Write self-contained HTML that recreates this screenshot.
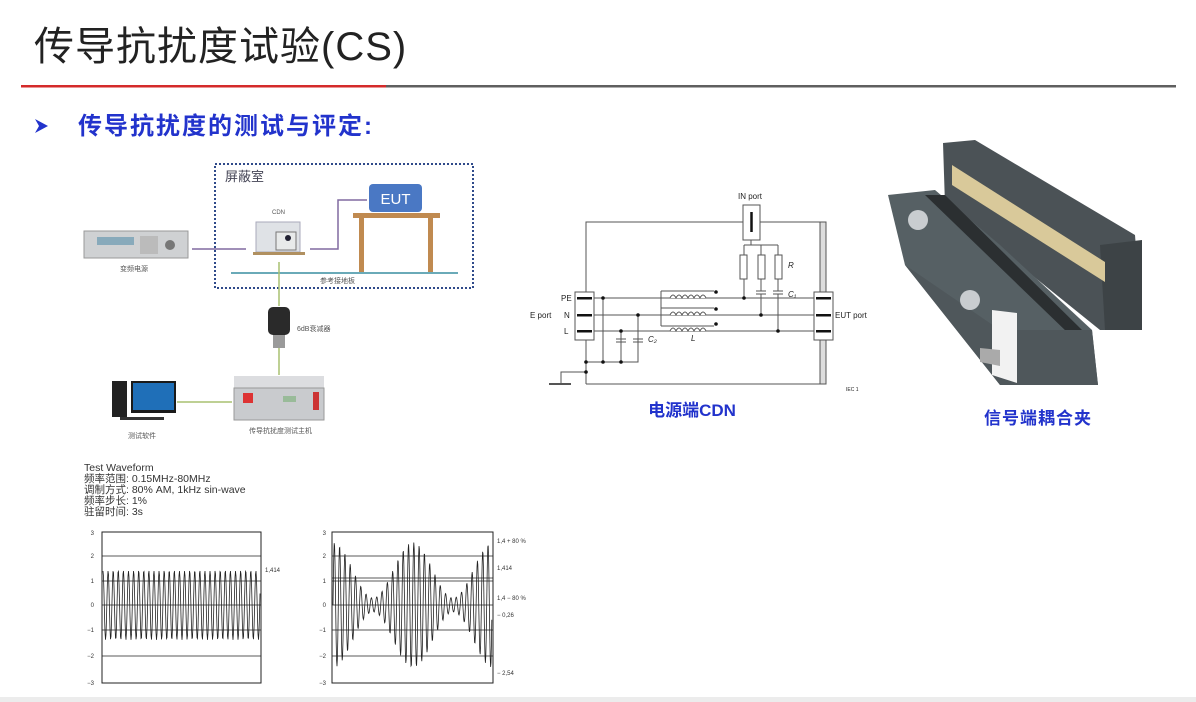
<!DOCTYPE html>
<html><head><meta charset="utf-8"><style>
html,body{margin:0;padding:0;background:#fff;width:1196px;height:702px;overflow:hidden}
svg{display:block}
text{font-family:"Liberation Sans","Noto Sans CJK SC",sans-serif}
</style></head><body>
<svg width="1196" height="702" viewBox="0 0 1196 702" xmlns="http://www.w3.org/2000/svg">
<!-- title -->
<text x="34" y="60" font-size="40" fill="#222" font-family="'Noto Serif CJK SC','Liberation Serif',serif" letter-spacing="1">传导抗扰度试验(CS)</text>
<rect x="21" y="85" width="365" height="2.5" fill="#d42a2a"/>
<rect x="386" y="85" width="790" height="2.5" fill="#5f5f5f"/>
<!-- subtitle -->
<polygon points="35,119 48,126 35,133 39,126" fill="#2233cc"/>
<text x="78" y="134" font-size="24" fill="#2233cc" font-family="'Noto Serif CJK SC',serif" font-weight="bold" letter-spacing="2">传导抗扰度的测试与评定:</text>

<!-- diagram 1 -->
<rect x="215" y="164" width="258" height="124" fill="none" stroke="#2f4a8a" stroke-width="2" stroke-dasharray="2,2"/>
<text x="225" y="181" font-size="13" fill="#445">屏蔽室</text>
<rect x="369" y="184" width="53" height="28" rx="4" fill="#4a78c4"/>
<text x="395.5" y="204" font-size="15" fill="#fff" text-anchor="middle">EUT</text>
<rect x="353" y="213" width="87" height="5" fill="#c08a50"/>
<rect x="359" y="218" width="5" height="55" fill="#c08a50"/>
<rect x="428" y="218" width="5" height="55" fill="#c08a50"/>
<line x1="231" y1="273" x2="458" y2="273" stroke="#6aaab8" stroke-width="2"/>
<text x="320" y="283" font-size="7" fill="#555">参考接地板</text>
<text x="272" y="214" font-size="6" fill="#555">CDN</text>
<rect x="256" y="222" width="44" height="30" fill="#dfe2e6" stroke="#aab" />
<rect x="276" y="232" width="20" height="18" fill="#e8eaea" stroke="#777"/>
<circle cx="288" cy="238" r="3" fill="#223"/>
<rect x="253" y="252" width="52" height="3" fill="#b09060"/>
<rect x="84" y="231" width="104" height="27" fill="#cfd1d3" stroke="#999"/>
<rect x="97" y="237" width="37" height="8" fill="#8ab"/>
<circle cx="170" cy="245" r="5" fill="#777"/>
<rect x="140" y="236" width="18" height="18" fill="#bbb"/>
<text x="120" y="271" font-size="7" fill="#555">变频电源</text>
<polyline points="192,249 246,249" fill="none" stroke="#806aa0" stroke-width="1.5"/>
<polyline points="310,249 338,249 338,200 367,200" fill="none" stroke="#806aa0" stroke-width="1.5"/>
<line x1="279" y1="262" x2="279" y2="306" stroke="#a8c070" stroke-width="1.5"/>
<rect x="268" y="307" width="22" height="28" rx="5" fill="#2a2a2a"/>
<rect x="273" y="335" width="12" height="13" fill="#9a9a9a"/>
<text x="297" y="331" font-size="7" fill="#555">6dB衰减器</text>
<line x1="279" y1="348" x2="279" y2="375" stroke="#a8c070" stroke-width="1.5"/>
<rect x="234" y="376" width="90" height="12" fill="#dcdde0"/>
<rect x="234" y="388" width="90" height="32" fill="#c9cbce" stroke="#999"/>
<rect x="243" y="393" width="10" height="10" fill="#d33"/>
<rect x="283" y="396" width="13" height="6" fill="#9b9"/>
<rect x="313" y="392" width="6" height="18" fill="#c33"/>
<text x="249" y="433" font-size="7" fill="#555">传导抗扰度测试主机</text>
<line x1="177" y1="402" x2="232" y2="402" stroke="#a8c070" stroke-width="1.5"/>
<rect x="112" y="381" width="15" height="36" fill="#222"/>
<rect x="131" y="381" width="45" height="32" fill="#1a1a1a"/>
<rect x="133" y="383" width="41" height="27" fill="#1f6fb8"/>
<rect x="120" y="417" width="44" height="3" fill="#333"/>
<text x="128" y="438" font-size="7" fill="#555">测试软件</text>

<!-- waveform text -->
<g font-size="10.5" fill="#333">
<text x="84" y="471">Test Waveform</text>
<text x="84" y="482">频率范围: 0.15MHz-80MHz</text>
<text x="84" y="493">调制方式: 80% AM, 1kHz sin-wave</text>
<text x="84" y="504">频率步长: 1%</text>
<text x="84" y="515">驻留时间: 3s</text>
</g>
<g id="charts" stroke="#222" fill="none">
<rect x="102" y="532" width="159" height="151" stroke-width="1"/>
<rect x="332" y="532" width="161" height="151" stroke-width="1"/>
<g stroke-width="0.8">
<line x1="102" y1="556" x2="261" y2="556"/><line x1="102" y1="581" x2="261" y2="581"/><line x1="102" y1="605" x2="261" y2="605"/><line x1="102" y1="630" x2="261" y2="630"/><line x1="102" y1="656" x2="261" y2="656"/>
<line x1="332" y1="556" x2="493" y2="556"/><line x1="332" y1="578" x2="493" y2="578"/><line x1="332" y1="581" x2="493" y2="581"/><line x1="332" y1="605" x2="493" y2="605"/><line x1="332" y1="630" x2="493" y2="630"/><line x1="332" y1="656" x2="493" y2="656"/>
</g>
<path id="w1" stroke-width="0.8"/>
<path id="w2" stroke-width="0.8"/>
</g>
<g font-size="6" fill="#333" text-anchor="end">
<text x="94" y="535">3</text><text x="94" y="558">2</text><text x="94" y="583">1</text><text x="94" y="607">0</text><text x="94" y="632">−1</text><text x="94" y="658">−2</text><text x="94" y="685">−3</text>
<text x="326" y="535">3</text><text x="326" y="558">2</text><text x="326" y="583">1</text><text x="326" y="607">0</text><text x="326" y="632">−1</text><text x="326" y="658">−2</text><text x="326" y="685">−3</text>
</g>
<g font-size="6" fill="#333">
<text x="265" y="572">1,414</text>
<text x="497" y="543">1,4 + 80 %</text>
<text x="497" y="570">1,414</text>
<text x="497" y="600">1,4 − 80 %</text>
<text x="497" y="617">− 0,26</text>
<text x="497" y="675">− 2,54</text>
</g>

<!-- CDN schematic -->
<g stroke="#555" stroke-width="1" fill="none">
<polyline points="586,292 586,222 743,222"/>
<polyline points="760,222 820,222"/>
<rect x="820" y="222" width="6" height="162" fill="#ddd"/>
<line x1="586" y1="384" x2="820" y2="384"/>
<rect x="743" y="205" width="17" height="35"/>
<line x1="751.5" y1="212" x2="751.5" y2="232" stroke="#111" stroke-width="2.5"/>
<polyline points="751,240 751,245 778,245"/>
<line x1="744" y1="245" x2="751" y2="245"/>
<rect x="740" y="255" width="7" height="24"/><rect x="758" y="255" width="7" height="24"/><rect x="775" y="255" width="7" height="24"/>
<line x1="744" y1="245" x2="744" y2="255"/><line x1="761" y1="245" x2="761" y2="255"/><line x1="778" y1="245" x2="778" y2="255"/>
<line x1="744" y1="279" x2="744" y2="298"/>
<line x1="761" y1="279" x2="761" y2="291"/><line x1="778" y1="279" x2="778" y2="291"/>
<line x1="756" y1="291" x2="766" y2="291"/><line x1="756" y1="294" x2="766" y2="294"/>
<line x1="773" y1="291" x2="783" y2="291"/><line x1="773" y1="294" x2="783" y2="294"/>
<line x1="761" y1="294" x2="761" y2="315"/><line x1="778" y1="294" x2="778" y2="331"/>
<rect x="575" y="292" width="19" height="48"/>
<rect x="814" y="292" width="19" height="48" fill="#fff"/>
<line x1="594" y1="298" x2="814" y2="298"/><line x1="594" y1="315" x2="814" y2="315"/><line x1="594" y1="331" x2="814" y2="331"/>
<line x1="586" y1="340" x2="586" y2="384"/>
<polyline points="586,372 561,372 561,384"/>
<line x1="549" y1="384" x2="571" y2="384" stroke-width="2"/>
<polyline points="586,362 638,362 638,315"/>
<line x1="603" y1="298" x2="603" y2="362"/>
<line x1="621" y1="331" x2="621" y2="362"/>
<line x1="616" y1="339" x2="626" y2="339"/><line x1="616" y1="342" x2="626" y2="342"/>
<line x1="633" y1="339" x2="643" y2="339"/><line x1="633" y1="342" x2="643" y2="342"/>
<line x1="661" y1="291" x2="661" y2="326"/>
<line x1="661" y1="291" x2="714" y2="291"/><line x1="661" y1="308" x2="714" y2="308"/><line x1="661" y1="326" x2="714" y2="326"/>
<path d="M670 298 q3 -6 6 0 q3 -6 6 0 q3 -6 6 0 q3 -6 6 0 q3 -6 6 0 q3 -6 6 0 M670 315 q3 -6 6 0 q3 -6 6 0 q3 -6 6 0 q3 -6 6 0 q3 -6 6 0 q3 -6 6 0 M670 331 q3 -6 6 0 q3 -6 6 0 q3 -6 6 0 q3 -6 6 0 q3 -6 6 0 q3 -6 6 0" fill="#fff"/>
</g>
<g fill="#111">
<rect x="577" y="297" width="15" height="2.5"/><rect x="577" y="314" width="15" height="2.5"/><rect x="577" y="330" width="15" height="2.5"/>
<rect x="816" y="297" width="15" height="2.5"/><rect x="816" y="314" width="15" height="2.5"/><rect x="816" y="330" width="15" height="2.5"/>
<circle cx="603" cy="298" r="1.8"/><circle cx="638" cy="315" r="1.8"/><circle cx="621" cy="331" r="1.8"/>
<circle cx="586" cy="362" r="1.8"/><circle cx="603" cy="362" r="1.8"/><circle cx="621" cy="362" r="1.8"/><circle cx="586" cy="372" r="1.8"/>
<circle cx="744" cy="298" r="1.8"/><circle cx="761" cy="315" r="1.8"/><circle cx="778" cy="331" r="1.8"/>
<circle cx="716" cy="292" r="1.8"/><circle cx="716" cy="309" r="1.8"/><circle cx="716" cy="324" r="1.8"/>
</g>
<g font-size="8" fill="#222">
<text x="738" y="199">IN port</text>
<text x="561" y="301">PE</text><text x="564" y="318">N</text><text x="564" y="334">L</text>
<text x="530" y="318">E port</text><text x="835" y="318">EUT port</text>
<text x="788" y="268" font-style="italic">R</text><text x="788" y="297" font-style="italic">C₁</text>
<text x="648" y="342" font-style="italic">C₂</text><text x="691" y="341" font-style="italic">L</text>
<text x="846" y="391" font-size="5">IEC 1</text>
</g>
<text x="692" y="416" font-size="17" fill="#2233cc" font-weight="bold" text-anchor="middle" font-family="'Noto Serif CJK SC',serif">电源端CDN</text>

<!-- clamp -->
<g>
<polygon points="943,143 975,140 1135,235 1142,330 1100,330 945,205" fill="#4b5256"/>
<polygon points="1100,245 1142,240 1142,330 1105,330" fill="#3d4346"/>
<polygon points="952,165 1105,262 1105,282 952,185" fill="#d9c99a"/>
<polygon points="888,195 935,190 1000,245 1092,330 1098,385 1000,385 905,265" fill="#566064"/>
<polygon points="925,195 945,195 1082,330 1068,333" fill="#2b2f31"/>
<polygon points="905,265 1000,385 1098,385 1092,330 1000,330" fill="#4f575b"/>
<polygon points="992,310 1017,313 1017,383 992,375" fill="#f2f2f2"/>
<circle cx="970" cy="300" r="10" fill="#c9cdd0"/>
<circle cx="918" cy="220" r="10" fill="#c9cdd0"/>
<polygon points="980,348 1000,350 1000,366 980,362" fill="#aaa"/>
</g>
<text x="1038" y="424" font-size="17" fill="#2233cc" font-weight="bold" text-anchor="middle" font-family="'Noto Serif CJK SC',serif" letter-spacing="1">信号端耦合夹</text>

<rect x="0" y="697" width="1196" height="5" fill="#ececec"/>
</svg>
<script>
(function(){
 var s=24.6;
 var d='';
 for(var x=103;x<=260;x+=0.5){var y=605-1.414*s*Math.sin((x-103)/158*31*2*Math.PI+Math.PI/2);y=Math.max(571,Math.min(641,y));d+=(d?'L':'M')+x+' '+y.toFixed(1);}
 document.getElementById('w1').setAttribute('d',d);
 d='';
 for(var x=333;x<=492;x+=0.4){var t=x-333;var env=1.414*(1+0.8*Math.cos(t/80*2*Math.PI));var y=605-env*s*Math.sin(t/5.3*2*Math.PI);d+=(d?'L':'M')+x+' '+y.toFixed(1);}
 document.getElementById('w2').setAttribute('d',d);
})();
</script>
</body></html>
